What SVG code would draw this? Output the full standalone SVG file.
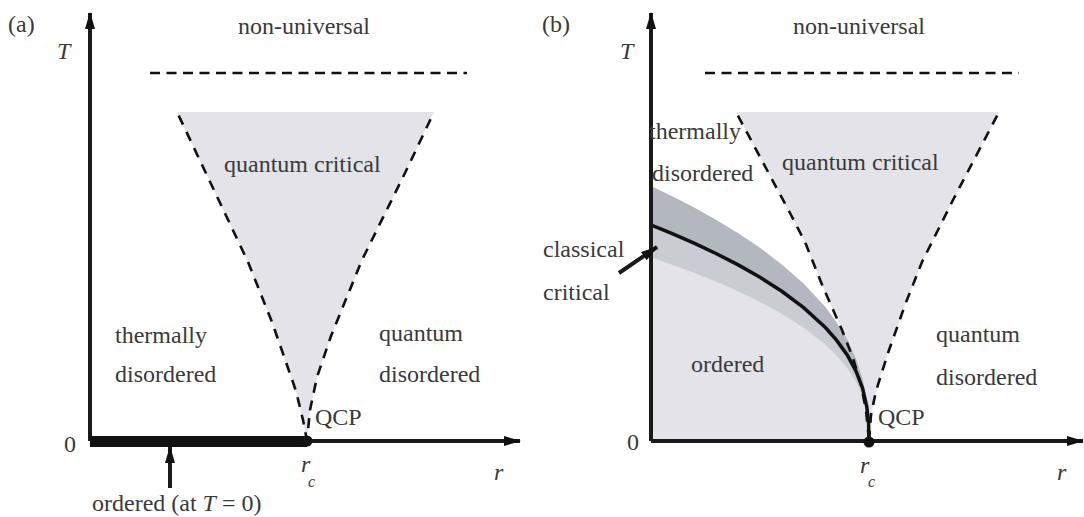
<svg xmlns="http://www.w3.org/2000/svg" width="1084" height="517" viewBox="0 0 1084 517">
<style>
text{font-family:"Liberation Serif","Times New Roman",serif;font-size:24px;fill:#3a3a3a}
.it{font-style:italic}
.sub{font-size:16px;font-style:italic}
.axis{stroke:#1a1a1a;stroke-width:4;fill:none}
.dash{stroke:#111;stroke-width:2.6;fill:none;stroke-dasharray:10 8}
.hdash{stroke:#111;stroke-width:2.6;fill:none;stroke-dasharray:10 6.5}
.qc{fill:#e3e3e9}
.ord{fill:#e3e3e9}
.bandU{fill:#b3b7c0}
.bandL{fill:#c9ccd3}
.curve{stroke:#111;stroke-width:3.5;fill:none}
</style>
<defs>
<marker id="ah" markerUnits="userSpaceOnUse" markerWidth="18" markerHeight="12" refX="16" refY="5" orient="auto">
<path d="M0,0 L17,5 L0,10 z" fill="#111"/>
</marker>
</defs>

<g id="panel-a">
<g id="a-regions">
<path class="qc" d="M177 112 L434 112 L405 173 L362 260 L331 336 L317 377 L310 410 L307 441 L303 420 L296 391 L272 322 L248 262 Z"/>
</g>
<g id="a-connectors">
<line class="hdash" x1="150" y1="73" x2="467" y2="73"/>
<path class="dash" d="M177 112 L248 262 L272 322 L296 391 L303 420 L307 441" stroke-dashoffset="-4"/>
<path class="dash" d="M434 112 L405 173 L362 260 L331 336 L317 377 L310 410 L307 441" stroke-dashoffset="-8"/>
<line class="axis" x1="90" y1="441" x2="90" y2="13" marker-end="url(#ah)"/>
<line class="axis" x1="90" y1="441" x2="520" y2="441" marker-end="url(#ah)"/>
<line x1="90" y1="441.5" x2="307" y2="441.5" stroke="#111" stroke-width="11"/>
<circle cx="307" cy="441" r="5.5" fill="#111"/>
<line class="axis" stroke-width="3" x1="170" y1="488" x2="170" y2="447" marker-end="url(#ah)"/>
</g>
<g id="a-labels">
<text x="8" y="32">(a)</text>
<text class="it" x="57" y="59">T</text>
<text x="238" y="34">non-universal</text>
<text x="224" y="172">quantum critical</text>
<text x="115" y="343">thermally</text>
<text x="115" y="382">disordered</text>
<text x="379" y="341">quantum</text>
<text x="379" y="382">disordered</text>
<text x="315" y="425">QCP</text>
<text x="64" y="452">0</text>
<text class="it" x="301" y="472">r</text><text class="sub" x="308" y="487">c</text>
<text class="it" x="494" y="480">r</text>
<text x="92" y="511">ordered (at <tspan class="it">T</tspan> = 0)</text>
</g>
</g>

<g id="panel-b">
<g id="b-regions">
<path class="qc" d="M736 112 L999 112 L953 200 L922 262 L905 305 L888 353 L876 391 L871 415 L869 441 L866 410 L861 385 L853 358 L842 330 L823 287 L805 242 L790 213 L767 170 Z"/>
<path class="ord" d="M651 441 L651 225 L661.9 229.4 L672.8 233.9 L694.6 243.4 L716.4 253.7 L738.2 264.9 L760 277.3 L781.8 291.3 L803.6 307.6 L825.4 327.5 L836.3 339.9 L847.2 355 L855.9 370.9 L862.5 387.9 L866.8 406.8 L868.6 423 L869 441 Z"/>
<path class="bandU" d="M651 186.1 L661.9 191.3 L672.8 196.6 L694.6 207.8 L716.4 220 L738.2 233.2 L760 247.8 L781.8 264.4 L803.6 283.6 L825.4 307.1 L836.3 321.7 L847.2 339.5 L855.9 358.3 L862.5 378.3 L866.8 400.6 L868.6 419.8 L869 441 L868.6 423 L866.8 406.8 L862.5 387.9 L855.9 370.9 L847.2 355 L836.3 339.9 L825.4 327.5 L803.6 307.6 L781.8 291.3 L760 277.3 L738.2 264.9 L716.4 253.7 L694.6 243.4 L672.8 233.9 L661.9 229.4 L651 225 Z"/>
<path class="bandL" d="M651 225 L661.9 229.4 L672.8 233.9 L694.6 243.4 L716.4 253.7 L738.2 264.9 L760 277.3 L781.8 291.3 L803.6 307.6 L825.4 327.5 L836.3 339.9 L847.2 355 L855.9 370.9 L862.5 387.9 L866.8 406.8 L868.6 423 L869 441 L868.6 425.7 L866.8 411.9 L862.5 395.9 L855.9 381.4 L847.2 367.9 L836.3 355.1 L825.4 344.5 L803.6 327.6 L781.8 313.8 L760 301.9 L738.2 291.3 L716.4 281.8 L694.6 273 L672.8 265 L661.9 261.1 L651 257.4 Z"/>
</g>
<g id="b-connectors">
<line class="hdash" x1="705" y1="73" x2="1019" y2="73"/>
<path class="dash" d="M736 112 L767 170 L790 213 L805 242 L823 287 L842 330 L853 358 L861 385 L866 410 L869 441" stroke-dashoffset="-4"/>
<path class="dash" d="M999 112 L953 200 L922 262 L905 305 L888 353 L876 391 L871 415 L869 441" stroke-dashoffset="-4"/>
<path class="curve" d="M651 225 L661.9 229.4 L672.8 233.9 L694.6 243.4 L716.4 253.7 L738.2 264.9 L760 277.3 L781.8 291.3 L803.6 307.6 L825.4 327.5 L836.3 339.9 L847.2 355 L855.9 370.9 L862.5 387.9 L866.8 406.8 L868.6 423 L869 441"/>
<line class="axis" x1="651" y1="441" x2="651" y2="13" marker-end="url(#ah)"/>
<line class="axis" x1="651" y1="441" x2="1083" y2="441" marker-end="url(#ah)"/>
<circle cx="869" cy="442" r="5.5" fill="#111"/>
<line class="axis" stroke-width="3" x1="619" y1="273" x2="657" y2="247" marker-end="url(#ah)"/>
</g>
<g id="b-labels">
<text x="542" y="32">(b)</text>
<text class="it" x="620" y="59">T</text>
<text x="793" y="34">non-universal</text>
<text x="649" y="139">thermally</text>
<text x="652" y="181">disordered</text>
<text x="782" y="170">quantum critical</text>
<text x="543" y="257">classical</text>
<text x="543" y="300">critical</text>
<text x="691" y="372">ordered</text>
<text x="936" y="342">quantum</text>
<text x="936" y="385">disordered</text>
<text x="878" y="425">QCP</text>
<text x="627" y="450">0</text>
<text class="it" x="860" y="473">r</text><text class="sub" x="868" y="487">c</text>
<text class="it" x="1057" y="480">r</text>
</g>
</g>
</svg>
